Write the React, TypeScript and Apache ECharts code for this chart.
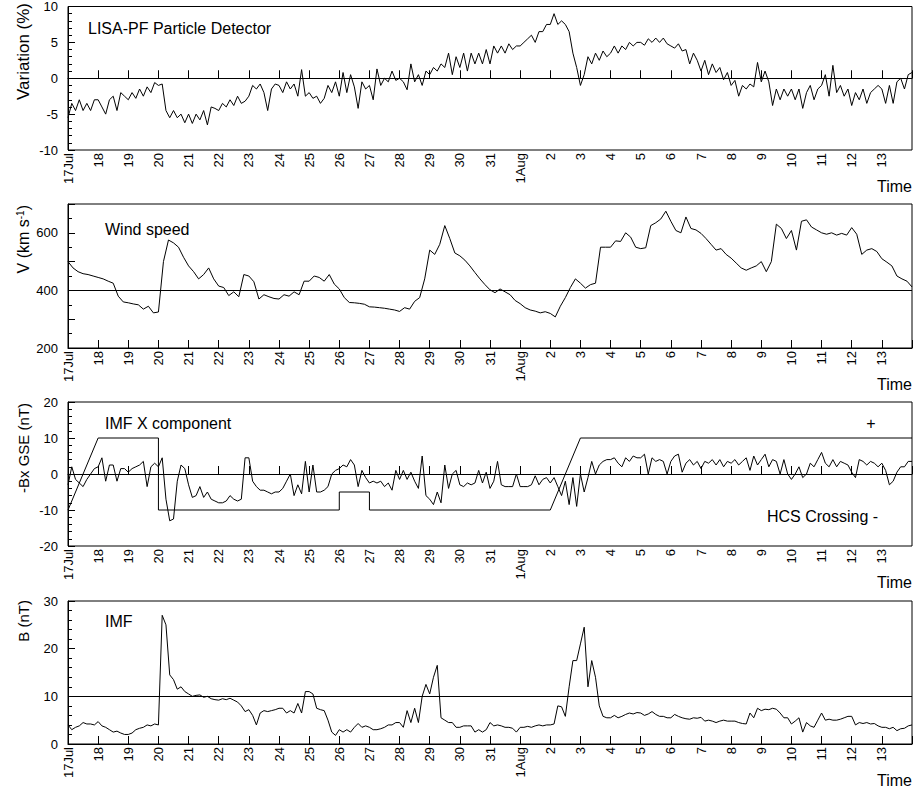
import { useEffect, useRef } from 'react';
import * as echarts from 'echarts';

const FONT = "'Liberation Sans', Arial, Helvetica, sans-serif";

// x axis = days since 17 Jul 00:00, one tick a day
const dayLabels = [
  '17Jul', '18', '19', '20', '21', '22', '23', '24', '25', '26', '27', '28', '29', '30', '31',
  '1Aug', '2', '3', '4', '5', '6', '7', '8', '9', '10', '11', '12', '13', '',
];

// LISA-PF particle detector variation (%), 3-hourly
const variation = [
  -5.5, -3.5, -4.5, -3, -4.5, -3.5, -4.5, -3,
  -3, -4, -5, -3, -2.5, -4.5, -2, -2.5,
  -3, -2, -2.8, -1.5, -2.5, -1.2, -2, -0.6,
  -1, -0.8, -4.5, -5.5, -4.5, -5.5, -5, -6.2,
  -5, -6.3, -5, -5.8, -4.5, -6.5, -4, -4.2,
  -4.5, -3.5, -4, -3, -3.8, -2.5, -3.5, -3.2,
  -2.5, -1, -1.5, -0.8, -2, -4.5, -1.5, -0.8,
  -1, -2, -0.5, -1.5, -0.8, -2.5, 1.2, -2.5,
  -2, -2.8, -2.5, -3.5, -2.8, -1, -2, -0.5,
  -2.5, 0.8, -2, 0.5, -1.2, -4.2, -0.5, -1.5,
  -1, -3, 1.3, -1, 0, -0.5, 1, -0.3,
  0, -0.5, -1.6, 2, -0.5, 0.5, -1, 1,
  0.5, 1.5, 1, 2, 1.5, 3.5, 0.5, 3,
  1.5, 3.5, 1, 3.5, 2, 3.5, 2, 4,
  2, 4.5, 3.5, 4.5, 3.5, 4.8, 4, 4.5,
  4.5, 5, 5.5, 6, 5, 6.5, 6.5, 7.5,
  7.5, 9, 7.5, 8, 7.5, 6.5, 3.5, 1.5,
  -1, 0.5, 3, 2, 3.5, 2.5, 3.8, 3,
  3.5, 4.5, 3.5, 4.5, 4, 5, 4.5, 5,
  5, 4.6, 5.5, 5, 5.6, 5, 5.6, 4.8,
  4.5, 4.2, 4.8, 3.8, 4, 2, 3.5, 2.5,
  1, 2.5, 0.5, 2, 0.8, 1.5, -0.2, 0.8,
  -1, -0.3, -2.5, -1, -1.5, -0.8, -1.2, 2.2,
  -0.5, 1, -0.5, -3.8, -1.5, -3, -1.5, -2.5,
  -1.5, -3, -1.5, -4.2, -2, -1, -3, -1.5,
  -1, 0.5, -2.5, 1.8, -2, -1, -2.5, -1.5,
  -3.8, -2, -3, -1.5, -3.5, -2, -1.5, -1,
  -1.5, -3.5, -1, -3.5, -0.5, 0, -1.5, 0.5,
  0.8,
];

// solar wind speed (km/s), 4-hourly
const windSpeed = [
  500, 478, 465, 458, 455, 450,
  445, 440, 432, 425, 380, 360,
  357, 353, 350, 335, 345, 322,
  325, 500, 575, 565, 550, 515,
  485, 465, 440, 455, 478, 440,
  415, 410, 382, 395, 378, 455,
  450, 430, 370, 385, 378, 372,
  370, 385, 380, 395, 385, 432,
  432, 450, 445, 432, 455, 422,
  405, 375, 358, 357, 355, 352,
  343, 342, 340, 338, 335, 332,
  327, 340, 335, 362, 375, 440,
  540, 525, 560, 625, 580, 530,
  520, 505, 485, 462, 440, 420,
  402, 392, 405, 395, 385, 365,
  354, 340, 332, 328, 322, 326,
  320, 308, 345, 375, 410, 440,
  425, 408, 420, 425, 550, 550,
  550, 572, 570, 600, 585, 550,
  545, 548, 625, 635, 648, 675,
  640, 608, 600, 655, 615, 610,
  598, 580, 560, 540, 545, 525,
  512, 495, 478, 470, 478, 485,
  500, 465, 500, 630, 615, 580,
  608, 540, 640, 645, 620, 610,
  600, 595, 600, 592, 598, 592,
  618, 595, 525, 540, 545, 535,
  510, 498, 485, 450, 440, 432,
  412,
];

// -Bx GSE (nT), 3-hourly
const bxGse = [
  -3, 2, -1.5, -2.5, -3.5, -1.5, 0, 1.5,
  2, 4.5, -2, 2.5, 2.5, -2, 1.5, 1.5,
  0.5, 1.5, 2, 2.5, 3.5, -3.5, 2, 3,
  2, 4.5, -7, -13, -12.5, -2, 2.5, 1.5,
  -3, -6.5, -6, -3.5, -6.5, -5, -7, -7.5,
  -8, -8, -7.5, -6, -7, -7.5, -7, 4.5,
  4.5, -2, -3.5, -4.5, -4.5, -5, -5.5, -5,
  -5, -4, -2, 0, -6, -3, -5.5, 3.5,
  -5, 2.5, -5, -5, -4.5, -3.5, 0, 1,
  1.5, 2.5, 2, 4, 2.5, -3.5, 1, -1,
  -2.5, -2, -2.5, -2, -3.5, -2.5, -4.5, 1,
  -1.5, 1, -1.5, 0.5, -2, -4, 5, -6,
  -7, -8.5, -5, -8, 2.5, -4, 0, 1,
  -3, -3.5, -2.5, -3, -2.5, 1, -2.5, 0.5,
  -4, -2, 3.5, -3, -3.5, -3.5, -3.5, 0,
  -3.5, -3.5, -3.5, -3, -0.5, -3, -1.5, -1,
  -2.5, -1, -3.5, -6, -2, -8.5, -1, -9,
  0, -5, -1, 3.5, 0, 2.5, 3.5, 4,
  4, 4.5, 3, 2, 4.5, 3.5, 5, 4.5,
  4.5, 5.5, 0, 4.5, 3.5, 4, 3.5, 0,
  3.5, 5, 5.5, 0.5, 3, 4, 2.5, 3.5,
  1.5, 3.5, 3, 4, 2.5, 4, 2, 3.5,
  3, 4, 2.5, 3.5, 4.5, 1, 5, 2.5,
  4, 5.5, 2, 4, 3.5, 0, 4, 0,
  -1.5, 0, 2, -1, 0, 3, 2, 4,
  6, 3, 2, 4, 2, 3.5, 3, 2.5,
  0.5, -1, 4, 3.5, 2.5, 3.5, 3, 2,
  3, 1, -3, -2, 0.5, 2, 2, 3.5,
  3.5,
];

// heliospheric current sheet crossing indicator
const hcsDays = [0, 1, 3, 3, 9, 9, 10, 10, 16, 17, 28];
const hcsValues = [-10, 10, 10, -10, -10, -5, -5, -10, -10, 10, 10];

// IMF magnitude B (nT), 3-hourly
const bField = [
  4, 3, 3.5, 3.8, 4.5, 4.2, 4.2, 4,
  4.7, 3.8, 3.5, 3, 2.5, 2.7, 2.3, 2,
  2, 2.3, 3, 3.3, 3.5, 4, 3.8, 4.2,
  4, 27, 25, 14.5, 13.5, 11.5, 12, 11,
  10.5, 10, 10.2, 10.3, 9.8, 10, 9.5, 9.3,
  9.2, 9.5, 9.3, 9.6, 9.2, 8.8, 8, 6.8,
  7.2, 6, 4, 6.5, 7, 6.8, 7, 7.2,
  7.5, 7.5, 6.5, 7, 6.5, 8.5, 6.5, 11,
  11, 10.5, 7.5, 7.2, 7, 5, 2.5, 1.8,
  3, 2.5, 3, 2.5, 3.5, 4.3, 3.5, 3.8,
  3.5, 3, 3, 3.2, 3.5, 4, 4, 4.5,
  4.5, 3.5, 7, 4.5, 7.5, 4.5, 10, 12.5,
  10.5, 14, 16.5, 5.5, 5, 4.5, 4.5, 3.5,
  3.5, 3.8, 3.8, 3.8, 2.5, 3, 2.5, 3,
  4.5, 3.8, 4, 3.8, 3.5, 3.5, 3.3, 2.5,
  3.5, 3.5, 3.7, 3.5, 3.8, 4, 3.8, 4,
  4, 4.2, 8, 7.8, 5.8, 12, 17.5, 17.5,
  21, 24.5, 12, 17.5, 14, 8, 5.8, 5.5,
  5.5, 6, 5.5, 5.8, 6.2, 6.5, 6.3, 6.6,
  6.5, 6, 6.3, 6.8, 6.2, 5.8, 5.8, 5.5,
  5.5, 6.2, 5.8, 5.5, 5.3, 5.2, 5.5, 5.4,
  5.6, 4.8, 5, 4.8, 4.5, 4.8, 5, 4.8,
  4.8, 4.8, 4.5, 4.3, 4.2, 6.5, 5.5, 7.5,
  7, 7.3, 7.2, 7.5, 7.3, 6.5, 5.5, 5.5,
  4.2, 4.8, 5.5, 2.5, 4.5, 3.8, 3.5, 5,
  6.5, 5, 5.2, 5, 5, 5.2, 5.5, 5.8,
  5.8, 4, 4.5, 4.3, 4.5, 4.2, 4.3, 3.8,
  3.5, 3.5, 3.2, 3.5, 2.8, 3.2, 3.3, 3.8,
  4,
];

const windLabels = [200, 400, 600];

const panels = [
  { top: 5, height: 145, min: -10, max: 10, interval: 5, minor: 5, ref: 0, title: 'LISA-PF Particle Detector', titleX: 88 },
  { top: 204, height: 144, min: 200, max: 700, interval: 100, minor: 2, ref: 400, title: 'Wind speed', titleX: 105 },
  { top: 402, height: 144, min: -20, max: 20, interval: 10, minor: 5, ref: 0, title: 'IMF X component', titleX: 105 },
  { top: 601, height: 143, min: 0, max: 30, interval: 10, minor: 5, ref: 10, title: 'IMF', titleX: 105 },
];

const toPoints = (vals: number[], perDay: number) => vals.map((v, i) => [i / perDay, v]);

const lineStyle = { color: '#000', width: 1 };

const refLine = (value: number) => ({
  silent: true,
  symbol: ['none', 'none'],
  label: { show: false },
  lineStyle: { color: '#000', width: 1, type: 'solid' },
  data: [{ yAxis: value }],
});

const Chart = () => {
  const chartRef = useRef<HTMLDivElement>(null);

  useEffect(() => {
    if (!chartRef.current) return;
    const myChart = echarts.init(chartRef.current, undefined, { renderer: 'svg' });

    const txt = (text: string, x: number, y: number, align = 'left', size = 16) => ({
      type: 'text',
      x,
      y,
      style: {
        text,
        fontSize: size,
        fontFamily: FONT,
        fill: '#000',
        align,
        textAlign: align,
        verticalAlign: 'middle',
        textVerticalAlign: 'middle',
      },
    });

    // y axis names, rotated, hanging from the top of each panel
    const names: any[] = [
      { ...txt('Variation (%)', 23, 3, 'right', 17), rotation: Math.PI / 2 },
      {
        type: 'text',
        x: 23,
        y: 205,
        rotation: Math.PI / 2,
        style: {
          text: '{n|V (km s}{s|-1}{n|)}',
          align: 'right',
          verticalAlign: 'middle',
          rich: {
            n: { fontSize: 16, fontFamily: FONT, fill: '#000' },
            s: { fontSize: 10, fontFamily: FONT, fill: '#000', verticalAlign: 'top' },
          },
        },
      },
      { ...txt('-Bx GSE (nT)', 23, 403, 'right', 15), rotation: Math.PI / 2 },
      { ...txt('B (nT)', 23, 600, 'right', 15), rotation: Math.PI / 2 },
    ];

    const titleY = [28, 229, 423, 621];
    const texts = panels.flatMap((p, i) => [
      txt(p.title, p.titleX, titleY[i]),
      txt('Time', 912, p.top + p.height + 36, 'right'),
    ]);

    const option: any = {
      animation: false,
      grid: panels.map((p) => ({
        left: 68,
        right: 3,
        top: p.top,
        height: p.height,
        show: true,
        borderColor: '#000',
        borderWidth: 1,
      })),
      xAxis: panels.map((_, i) => ({
        type: 'value',
        gridIndex: i,
        min: 0,
        max: 28,
        interval: 1,
        axisLine: { lineStyle: { color: '#000' } },
        axisTick: { inside: true, length: 8, lineStyle: { color: '#000' } },
        splitLine: { show: false },
        axisLabel: {
          rotate: 90,
          margin: 3,
          color: '#000',
          fontSize: 13,
          fontFamily: FONT,
          padding: [0, 0, 4, 0],
          formatter: (v: number) => dayLabels[Math.round(v)] ?? '',
        },
      })),
      yAxis: panels.map((p, i) => ({
        type: 'value',
        gridIndex: i,
        min: p.min,
        max: p.max,
        interval: p.interval,
        axisLine: { show: true, lineStyle: { color: '#000' } },
        axisTick: { inside: true, length: 7, lineStyle: { color: '#000' } },
        minorTick: { show: true, splitNumber: p.minor, length: 4, lineStyle: { color: '#000' } },
        splitLine: { show: false },
        axisLabel: {
          color: '#000',
          fontSize: 13,
          fontFamily: FONT,
          margin: 10,
          formatter: (v: number) => (i === 1 ? (windLabels.includes(v) ? String(v) : '') : String(v)),
        },
      })),
      series: [
        { type: 'line', xAxisIndex: 0, yAxisIndex: 0, data: toPoints(variation, 8), markLine: refLine(panels[0].ref) },
        { type: 'line', xAxisIndex: 1, yAxisIndex: 1, data: toPoints(windSpeed, 6), markLine: refLine(panels[1].ref) },
        { type: 'line', xAxisIndex: 2, yAxisIndex: 2, data: toPoints(bxGse, 8), markLine: refLine(panels[2].ref) },
        { type: 'line', xAxisIndex: 2, yAxisIndex: 2, data: hcsDays.map((d, i) => [d, hcsValues[i]]) },
        { type: 'line', xAxisIndex: 3, yAxisIndex: 3, data: toPoints(bField, 8), markLine: refLine(panels[3].ref) },
      ].map((s) => ({ ...s, symbol: 'none', showSymbol: false, lineStyle, itemStyle: { color: '#000' }, silent: true })),
      graphic: [
        ...names,
        ...texts,
        txt('+', 871, 423, 'center'),
        txt('HCS Crossing -', 767, 516),
      ],
    };

    myChart.setOption(option);
    return () => {
      myChart.dispose();
    };
  }, []);

  return <div ref={chartRef} style={{ position: 'absolute', left: 0, top: 0, width: '915px', height: '792px' }} />;
};

export default function App() {
  return <Chart />;
}
